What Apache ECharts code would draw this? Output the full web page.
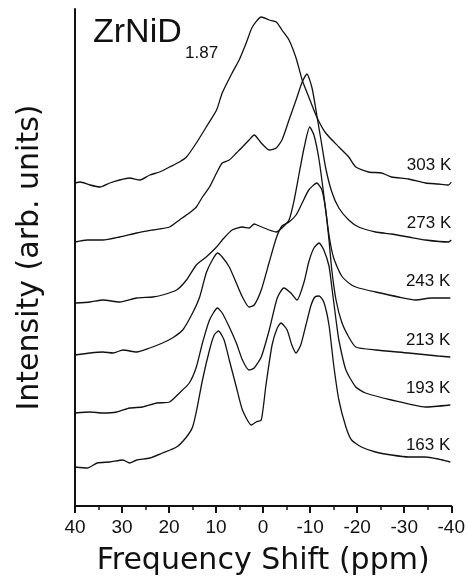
<!DOCTYPE html>
<html><head><meta charset="utf-8">
<script src="https://cdn.jsdelivr.net/npm/echarts@6/dist/echarts.min.js"></script>
<style>html,body{margin:0;padding:0;background:#fff}#c{width:468px;height:583px}</style>
</head><body><div id="c"></div>
<script>
const temps = ['303 K', '273 K', '243 K', '213 K', '193 K', '163 K'];

const shift303 = [40,38.9,36.8,34.7,32.6,30.5,28.4,26.2,24.1,22.0,19.9,17.8,16.3,14.2,12.1,9.9,8.7,6.6,5.1,3.6,2.3,0.4,-1.3,-2.8,-4.0,-5.5,-7.0,-8.3,-9.7,-11.4,-13.3,-16.1,-18.2,-19.7,-22.4,-25.2,-27.3,-30.9,-34.5,-37.2,-39.4,-40];
const int303   = [323,324,321,319,323,326,328,326,331,334,339,344,349,363,379,396,413,433,446,463,479,489,486,484,476,466,448,426,409,389,373,359,349,339,334,333,329,327,323,322,321,324];

const shift273 = [40,37.4,34.1,30.5,26.9,23.5,19.9,17.8,15.7,14.2,12.9,11.4,9.9,8.7,7.2,5.7,4.4,3.0,1.9,0.4,-1.3,-2.8,-4.0,-5.5,-7.0,-8.3,-9.3,-10.4,-11.4,-12.3,-13.3,-14.6,-16.1,-18.2,-20.3,-23.9,-27.3,-30.9,-34.5,-39.4,-40];
const int273   = [264,266,266,269,273,276,279,286,293,299,309,319,333,343,346,353,359,366,371,363,356,358,366,386,406,424,432,418,391,366,338,314,298,286,279,274,272,269,266,264,266];

const shift243 = [40,36.8,34.1,30.5,26.9,23.5,21.4,18.4,16.3,14.2,12.1,9.9,8.7,6.6,4.4,3.0,1.9,0.8,-1.3,-2.8,-4.0,-5.5,-6.6,-7.6,-8.7,-9.9,-10.8,-11.9,-12.9,-14.0,-15.0,-16.7,-18.8,-20.3,-23.9,-28.8,-32.4,-35.8,-39.8];
const int243   = [203,204,206,204,208,209,211,216,226,241,249,259,266,276,279,278,282,280,276,274,278,286,306,331,358,379,371,346,311,271,248,230,221,218,214,209,206,208,208];

const shift213 = [40,36.8,34.1,31.9,29.8,26.9,24.1,21.4,19.3,17.1,15.0,13.5,12.1,10.8,9.7,8.7,7.2,5.7,4.4,3.0,1.9,0.4,-1.3,-2.8,-4.0,-5.5,-7.0,-8.3,-9.7,-11.4,-12.5,-13.3,-14.0,-14.6,-15.5,-16.7,-18.2,-19.7,-23.9,-30.9,-37.2,-39.8];
const int213   = [151,153,154,153,156,154,158,163,168,176,193,209,233,246,253,249,239,223,209,199,201,216,244,268,280,284,291,303,316,323,316,296,266,236,206,184,169,159,156,153,150,149];

const shift193 = [40,36.8,34.1,31.1,28.4,25.6,22.6,19.9,17.8,15.7,14.2,12.9,11.4,9.7,8.7,7.2,5.7,4.4,3.0,1.9,0.4,-1.3,-3.0,-4.4,-5.9,-7.2,-8.7,-9.7,-10.8,-11.9,-12.9,-14.0,-14.6,-15.5,-16.1,-17.6,-19.7,-21.8,-27.3,-34.5,-39.8];
const int193   = [93,94,93,94,98,99,103,104,113,123,139,163,186,198,193,179,163,146,136,138,149,176,208,218,213,206,224,244,258,263,256,240,219,186,166,136,119,113,106,99,101];

const shift163 = [40,37.4,35.3,32.6,29.8,28.4,26.9,24.1,21.4,18.4,16.3,15.0,14.0,12.9,11.4,10.4,9.5,8.3,7.2,5.7,4.4,2.5,1.5,0.4,-0.6,-1.9,-3.0,-3.8,-5.1,-6.1,-7.0,-8.0,-9.1,-10.2,-11.0,-11.9,-12.9,-14.0,-15.0,-16.1,-17.6,-18.8,-20.9,-23.9,-27.3,-30.9,-34.5,-37.2,-39.8];
const int163   = [39,38,43,44,46,43,46,48,53,59,69,79,99,126,156,171,175,166,146,119,96,81,84,86,121,161,178,183,176,161,153,161,181,201,209,210,204,181,141,106,79,66,59,54,51,49,49,47,44];

const shifts = [shift303, shift273, shift243, shift213, shift193, shift163];
const ints = [int303, int273, int243, int213, int193, int163];

const ink = '#111';
const chart = echarts.init(document.getElementById('c'), null, {renderer: 'canvas'});

const series = temps.map((t, i) => ({
  type: 'line',
  name: t,
  data: shifts[i].map((x, j) => [x, ints[i][j]]),
  showSymbol: false,
  smooth: 0.2,
  lineStyle: {color: ink, width: 1.3},
  silent: true
}));

chart.setOption({
  animation: false,
  backgroundColor: '#fff',
  grid: {left: 75, right: 15, top: 9, bottom: 77},
  xAxis: {
    type: 'value', inverse: true, min: -40, max: 40, interval: 10,
    name: 'Frequency Shift (ppm)', nameLocation: 'middle', nameGap: 40,
    nameTextStyle: {fontFamily: 'DejaVu Sans', fontSize: 30, color: ink},
    axisLine: {onZero: false, lineStyle: {color: ink, width: 2}},
    axisTick: {length: 7, lineStyle: {color: ink, width: 2}},
    minorTick: {show: true, splitNumber: 2, length: 4, lineStyle: {color: ink, width: 1.5}},
    splitLine: {show: false},
    minorSplitLine: {show: false},
    axisLabel: {fontFamily: 'Liberation Sans', fontSize: 19, color: ink, margin: 12}
  },
  yAxis: {
    type: 'value', min: 0, max: 497, position: 'left',
    name: 'Intensity (arb. units)', nameLocation: 'middle', nameGap: 30, nameRotate: 90,
    nameTextStyle: {fontFamily: 'DejaVu Sans', fontSize: 30, color: ink},
    axisLine: {show: true, onZero: false, lineStyle: {color: ink, width: 2}},
    axisTick: {show: false},
    axisLabel: {show: false},
    splitLine: {show: false}
  },
  series: series
});

const gfx = temps.map((t, i) => {
  const n = ints[i].length;
  const p = chart.convertToPixel({gridIndex: 0}, [shifts[i][n - 1], ints[i][n - 1]]);
  return {
    type: 'text', x: p[0], y: p[1] - 17,
    style: {text: t, fontFamily: 'Liberation Sans', fontSize: 17, fill: ink, align: 'right', verticalAlign: 'middle'}
  };
});
gfx.push({type: 'text', x: 93, y: 33, style: {text: 'ZrNiD', fontFamily: 'Liberation Sans', fontSize: 34, fill: ink, align: 'left', verticalAlign: 'middle'}});
gfx.push({type: 'text', x: 185, y: 53, style: {text: '1.87', fontFamily: 'Liberation Sans', fontSize: 17, fill: ink, align: 'left', verticalAlign: 'middle'}});
chart.setOption({graphic: gfx});
</script>
</body></html>
